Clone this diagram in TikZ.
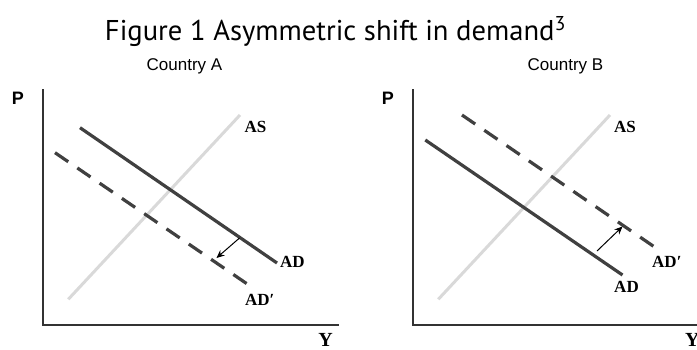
\documentclass[tikz,border=0pt]{standalone}
\usepackage{fontspec}
\setmainfont{Liberation Serif}
\newfontfamily\arialfont{Liberation Sans}
\newfontfamily\titlefont{PT Sans}
\usetikzlibrary{arrows.meta}
\begin{document}
\begin{tikzpicture}[x=1pt,y=-1pt,
  axis/.style={draw=black!80,line width=1.6pt},
  asline/.style={draw=black!15,line width=3pt},
  adline/.style={draw=black!75,line width=3.2pt},
  adshift/.style={draw=black!75,line width=3.2pt,dash pattern=on 16pt off 11pt},
  shiftarrow/.style={draw=black,line width=1pt,-{Stealth[length=8pt,width=7pt]}},
  curvelabel/.style={inner sep=0pt,font=\fontsize{17}{19}\selectfont\bfseries},
  axlabel/.style={inner sep=0pt,font=\fontsize{20}{22}\selectfont\bfseries},
  plabel/.style={inner sep=0pt,font=\arialfont\fontsize{18}{20}\selectfont\bfseries},
  country/.style={inner sep=0pt,font=\arialfont\fontsize{17}{19}\selectfont}]
\useasboundingbox (0,0) rectangle (697,349);
% title
\node[inner sep=0pt,anchor=base] (title) at (335.5,40)
  {\resizebox{461pt}{!}{\titlefont\fontsize{28}{30}\selectfont Figure 1 Asymmetric shift in demand\textsuperscript{3}}};
\node[country,anchor=base] (ca) at (184.5,70) {Country A};
\node[country,anchor=base] (cb) at (565.5,70) {Country B};
% ---------- Country A ----------
\coordinate (A0) at (42.7,325);
\coordinate (Atop) at (42.7,89);
\coordinate (Aright) at (339,325);
\draw[axis] (Atop) -- (A0) -- (Aright);
\node[plabel,anchor=base] (pa) at (18,104) {P};
\node[axlabel,anchor=base] (ya) at (325.5,346) {Y};
\coordinate (asA1) at (68.3,299.3);
\coordinate (asA2) at (240,115);
\draw[asline] (asA1) -- (asA2);
\coordinate (adA1) at (80,127.7);
\coordinate (adA2) at (277,263);
\draw[adline] (adA1) -- (adA2);
\coordinate (adpA1) at (55,152.7);
\coordinate (adpA2) at (248,284.5);
\draw[adshift] (adpA1) -- (adpA2);
\coordinate (arA1) at (239.5,238);
\coordinate (arA2) at (216.5,258);
\draw[shiftarrow] (arA1) -- (arA2);
\node[curvelabel,anchor=base] (asA) at (255.5,132) {AS};
\node[curvelabel,anchor=base west] (adA) at (280,267) {AD};
\node[curvelabel,anchor=base west] (adpA) at (245,305) {AD′};
% ---------- Country B ----------
\coordinate (B0) at (412.7,325);
\coordinate (Btop) at (412.7,89);
\coordinate (Bright) at (697,325);
\draw[axis] (Btop) -- (B0) -- (Bright);
\node[plabel,anchor=base] (pb) at (388,104) {P};
\node[axlabel,anchor=base west] (yb) at (685,346) {Y};
\coordinate (asB1) at (438.3,299.3);
\coordinate (asB2) at (610,115);
\draw[asline] (asB1) -- (asB2);
\coordinate (adB1) at (425.3,140);
\coordinate (adB2) at (622.5,275);
\draw[adline] (adB1) -- (adB2);
\coordinate (adpB1) at (462,115);
\coordinate (adpB2) at (656,248);
\draw[adshift] (adpB1) -- (adpB2);
\coordinate (arB1) at (597,251);
\coordinate (arB2) at (622.5,226.5);
\draw[shiftarrow] (arB1) -- (arB2);
\node[curvelabel,anchor=base] (asB) at (625,132) {AS};
\node[curvelabel,anchor=base] (adB) at (626.5,292) {AD};
\node[curvelabel,anchor=base west] (adpB) at (652,267) {AD′};
\end{tikzpicture}
\end{document}
